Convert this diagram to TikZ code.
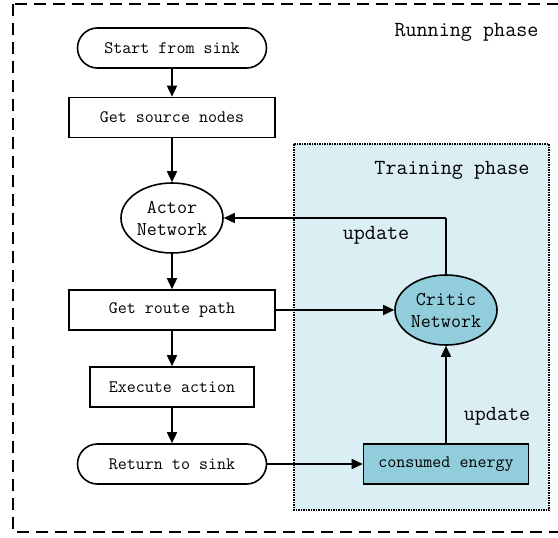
\documentclass[tikz,border=0pt]{standalone}
\usetikzlibrary{arrows.meta,shapes.geometric}
\definecolor{trainbg}{HTML}{DAEEF3}
\definecolor{criticbg}{HTML}{92CDDC}
\begin{document}
\begin{tikzpicture}[x=1pt,y=-1pt,
  txt/.style={font=\ttfamily\fontsize{17.5}{20}\selectfont},
  bigtxt/.style={font=\ttfamily\fontsize{21.5}{24}\selectfont},
  ovaltxt/.style={font=\ttfamily\fontsize{19.5}{23}\selectfont},
  stepbox/.style={draw,line width=1.6pt,rectangle,minimum height=40pt,inner sep=0pt,txt},
  stadium/.style={stepbox,rounded corners=20pt},
  oval/.style={draw,line width=1.6pt,ellipse,minimum width=102pt,minimum height=70pt,inner sep=0pt,ovaltxt,align=center,text depth=0pt},
  arr/.style={line width=1.6pt,-{Triangle[length=11pt,width=10pt]}},
  ln/.style={line width=1.6pt}]
\useasboundingbox (0,0) rectangle (558,538);
\clip (0,0) rectangle (558,538);
\draw[line width=2.6pt,dash pattern=on 12pt off 7pt] (13,4) rectangle (575,532);
\node[bigtxt,anchor=base east] (run) at (542,36) {Running phase};
\draw[fill=trainbg,line width=2pt,dash pattern=on 1.5pt off 1pt] (294,144) rectangle (549,510);
\node[bigtxt,anchor=base east] (train) at (533,174) {Training phase};

\node[stadium,minimum width=189pt] (start) at (172,48) {Start from sink};
\node[stepbox,minimum width=206pt] (src) at (172,117.5) {Get source nodes};
\node[oval,fill=white] (actor) at (172,218) {Actor\\[-1pt]Network};
\node[stepbox,minimum width=206pt] (route) at (172,310) {Get route path};
\node[stepbox,minimum width=164pt] (exec) at (172,387) {Execute action};
\node[stadium,minimum width=189pt] (ret) at (172,464) {Return to sink};
\node[oval,fill=criticbg] (critic) at (446,310) {Critic\\[-1pt]Network};
\node[stepbox,fill=criticbg,minimum width=165pt] (energy) at (446,464) {consumed energy};

\draw[arr] (start) -- (src);
\draw[arr] (src) -- (actor);
\draw[arr] (actor) -- (route);
\draw[arr] (route) -- (exec);
\draw[arr] (exec) -- (ret);
\draw[arr] (route.east) -- (critic.west);
\draw[arr] (ret.east) -- (energy.west);
\draw[arr] (energy.north -| critic.south) -- (critic.south);
\coordinate (corner) at (critic.north |- actor.east);
\draw[ln] (critic.north) -- (corner);
\draw[arr] (corner) -- (actor.east);
\node[bigtxt,anchor=base] (upd1) at (376,239) {update};
\node[bigtxt,anchor=base] (upd2) at (497,420) {update};
\end{tikzpicture}
\end{document}
